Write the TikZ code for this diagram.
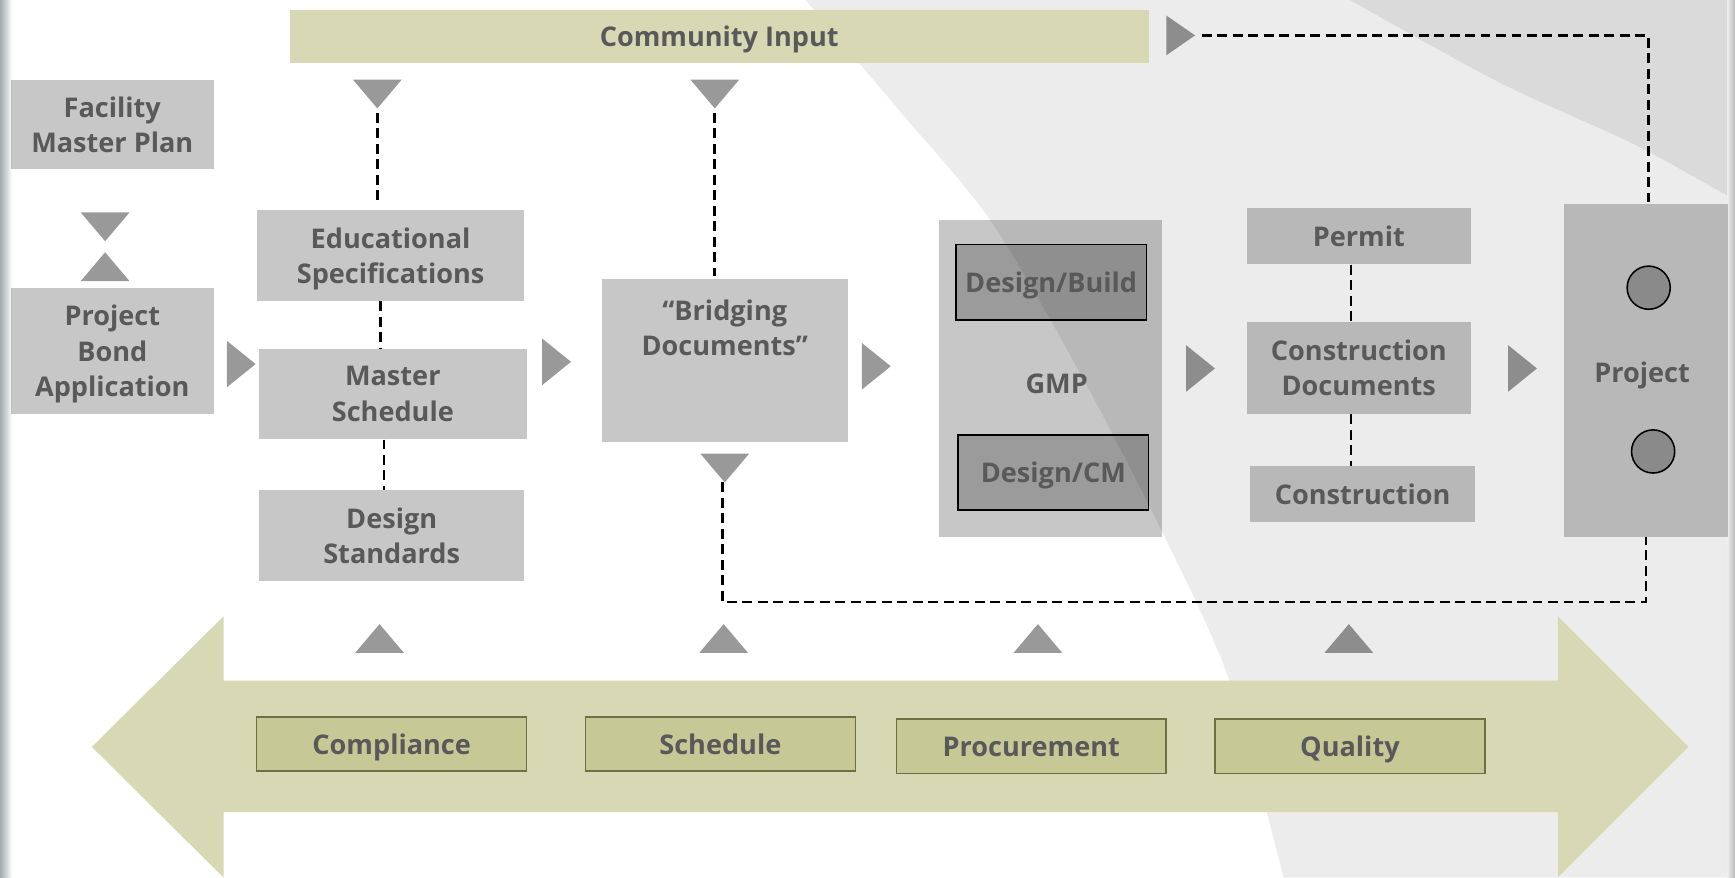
\documentclass[tikz,border=0pt]{standalone}
\usepackage{fontspec}
\setmainfont{Open Sans}
\usetikzlibrary{calc}
\definecolor{txtgray}{HTML}{595959}
\definecolor{khaki}{HTML}{D7D9B5}
\definecolor{oboxfill}{HTML}{C6C996}
\definecolor{oboxline}{HTML}{6F7040}
\definecolor{bglight}{HTML}{ECECEC}
\definecolor{bgdark}{HTML}{DADADA}
\definecolor{edgegray}{HTML}{A3A9AD}
\definecolor{circfill}{HTML}{8A8A8A}
\newcommand\dgfont{\fontsize{24.5}{32}\selectfont\bfseries}
\tikzset{
  box/.style={fill=black, fill opacity=0.22, text opacity=1, inner sep=0pt, text=txtgray, font=\dgfont, align=center, text depth=0pt},
  lbltext/.style={inner sep=0pt, text=txtgray, font=\dgfont, align=center, text depth=0pt},
  ibox/.style={box, draw=black, draw opacity=1, line width=1.4pt},
  kbox/.style={fill=khaki, inner sep=0pt, text=txtgray, font=\dgfont, align=center, text depth=0pt},
  obox/.style={fill=oboxfill, draw=oboxline, line width=1.4pt, inner sep=0pt, text=txtgray, font=\dgfont, align=center, text depth=0pt, minimum width=244pt, minimum height=49pt},
  circ/.style={circle, fill=circfill, draw=black, line width=1.4pt, minimum size=39pt, inner sep=0pt},
  dsh/.style={draw=black, line width=2.4pt, dash pattern=on 9pt off 5pt},
  trifill/.style={fill=black, fill opacity=0.4},
  rtri/.pic={\fill[trifill] (-13,-21) -- (13,0) -- (-13,21) -- cycle;},
  rtrismall/.pic={\fill[trifill] (-13,-18) -- (13,0) -- (-13,18) -- cycle;},
  dtri/.pic={\fill[trifill] (-22,-13) -- (22,-13) -- (0,13) -- cycle;},
  utri/.pic={\fill[trifill] (-22,13) -- (22,13) -- (0,-13) -- cycle;}
}
\begin{document}
\begin{tikzpicture}[x=1pt,y=-1pt]
\useasboundingbox (0,0) rectangle (1568,793);
% background
\fill[white] (0,0) rectangle (1568,793);
\fill[bglight] plot[smooth] coordinates {(728,0) (812,99) (895,199) (975,335) (1051,482) (1111,615) (1160,793)} -- (1568,793) -- (1568,0) -- cycle;
\fill[bgdark] plot[smooth] coordinates {(1220,0) (1356,75) (1476,130) (1563,178)} -- (1568,178) -- (1568,0) -- cycle;
\shade[left color=edgegray, right color=white] (0,0) rectangle (11,793);
\shade[left color=bglight, right color=gray!55] (1561,0) rectangle (1568,793);

% bottom double arrow
\fill[khaki] (83,675) -- (202,557) -- (202,615) -- (1408,615) -- (1408,557) -- (1526,675) -- (1408,793) -- (1408,734) -- (202,734) -- (202,793) -- cycle;

% community input
\node[kbox, minimum width=776pt, minimum height=48pt] (ci) at (650,33) {Community Input};

% boxes
\node[box, minimum width=183pt, minimum height=81pt] (fmp) at (101.5,112.5) {Facility\\Master Plan};
\node[box, minimum width=183pt, minimum height=114pt] (pba) at (101.5,317) {Project\\Bond\\Application};
\node[box, minimum width=242pt, minimum height=82pt] (eds) at (353,231) {Educational\\Specifications};
\node[box, minimum width=242pt, minimum height=82pt] (ms) at (355,356) {Master\\Schedule};
\node[box, minimum width=240pt, minimum height=82pt] (ds) at (354,484) {Design\\Standards};
\node[box, minimum width=222pt, minimum height=147pt] (bd) at (655,325.5) {};
\node[lbltext] (bdt) at (655,296) {“Bridging\\Documents”};
\node[box, minimum width=201pt, minimum height=286pt] (gmp) at (949.5,342) {};
\node[lbltext] (gmpt) at (955,347) {GMP};
\node[ibox, minimum width=172pt, minimum height=68pt] (db) at (950,255) {Design/Build};
\node[ibox, minimum width=172pt, minimum height=68pt] (dcm) at (952,427) {Design/CM};
\node[box, minimum width=202pt, minimum height=51pt] (pm) at (1228,213.5) {Permit};
\node[box, minimum width=202pt, minimum height=83pt] (cd) at (1228,332.5) {Construction\\Documents};
\node[box, minimum width=203pt, minimum height=51pt] (co) at (1231.5,446.5) {Construction};
\node[box, minimum width=149pt, minimum height=301pt] (pj) at (1487.5,334.5) {};
\node[lbltext] (pjt) at (1484,336) {Project};
\node[circ] (c1) at (1490,260) {};
\node[circ] (c2) at (1494,408) {};

% bottom boxes
\node[obox] (cmp) at (354,672.5) {Compliance};
\node[obox] (sch) at (651,672.5) {Schedule};
\node[obox] (prc) at (932,674.5) {Procurement};
\node[obox] (qual) at (1220,674.5) {Quality};

% triangles
\pic at (218,329) {rtri};
\pic at (503,327) {rtri};
\pic at (792,331) {rtri};
\pic at (1085,333) {rtri};
\pic at (1376,333) {rtri};
\pic at (1067,32) {rtrismall};
\pic at (95,205) {dtri};
\pic at (95,241) {utri};
\pic at (341,85) {dtri};
\pic at (646,85) {dtri};
\pic at (655,423) {dtri};
\pic at (343,577) {utri};
\pic at (654,577) {utri};
\pic at (938,577) {utri};
\pic at (1219,577) {utri};

% connector anchor points
\coordinate (tEd) at (341,98);
\coordinate (tBr) at (646,98);
\coordinate (tBd) at (653,436);
\coordinate (fb) at (653,544);
\coordinate (tCi) at (1080,32);

% dashed connectors
\draw[dsh, shorten <=4pt, shorten >=7pt] (tEd) -- (tEd |- eds.north);
\draw[dsh, shorten <=4pt, shorten >=2pt] (tBr) -- (tBr |- bd.north);
\draw[dsh] ([xshift=-9pt]eds.south) -- ([xshift=-9pt]eds.south |- ms.north);
\draw[dsh] ([xshift=-8pt]ms.south) -- ([xshift=-8pt]ms.south |- ds.north);
\draw[dsh] ([xshift=-7pt]pm.south) -- ([xshift=-7pt]pm.south |- cd.north);
\draw[dsh] ([xshift=-7pt]cd.south) -- ([xshift=-7pt]cd.south |- co.north);
\draw[dsh] (tBd) -- (fb) -| (pj.south);
\draw[dsh, shorten <=6pt] (tCi) -| ([xshift=2.5pt]pj.north);
\end{tikzpicture}
\end{document}
